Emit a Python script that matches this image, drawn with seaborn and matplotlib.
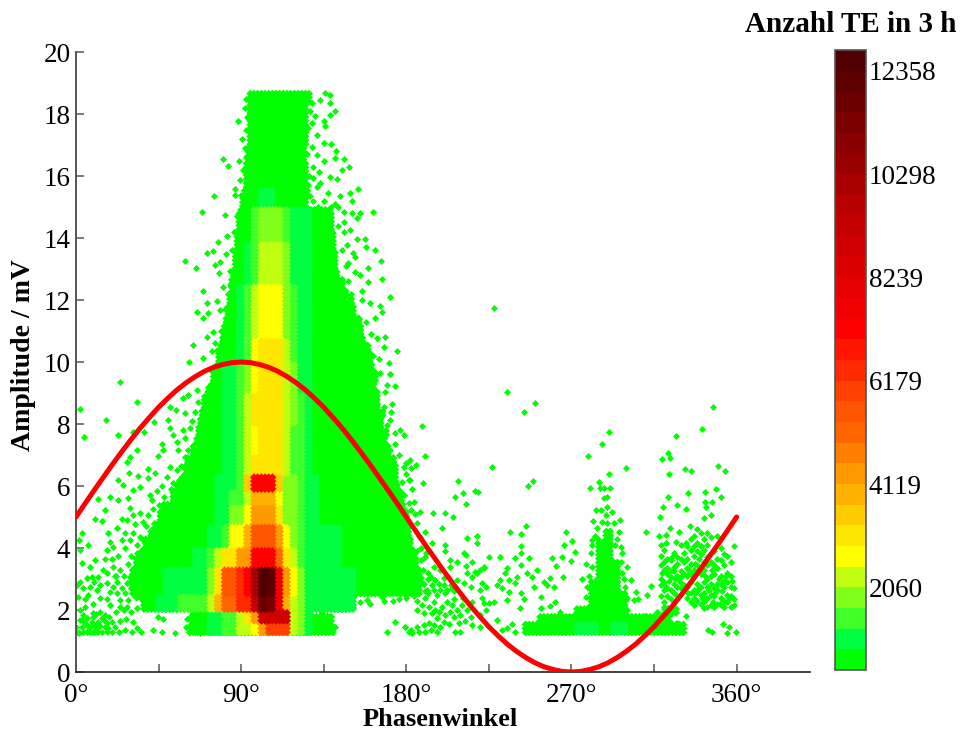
import numpy as np
import pandas as pd
import matplotlib
matplotlib.use("Agg")
import matplotlib.pyplot as plt
import seaborn as sns
from matplotlib.cm import ScalarMappable
from matplotlib.colors import BoundaryNorm, ListedColormap

# ----------------------------------------------------------
# DATA
# ----------------------------------------------------------

# one colour per count class, lowest first
level_colors = [
    "#00FF00", "#00FF40", "#40FF2A", "#80FF1A", "#C0FF10", "#FFFF00",
    "#FFE600", "#FFCC00", "#FFB300", "#FF9900", "#FF8000", "#FF6600",
    "#FF5500", "#FF4000", "#FF2A00", "#FF1500", "#FF0000", "#F00000",
    "#E60000", "#DB0000", "#D00000", "#C40000", "#B80000", "#A80000",
    "#980000", "#8A0000", "#7A0000", "#6C0000", "#5C0000", "#500000",
]
cbar_ticks = [2060, 4119, 6179, 8239, 10298, 12358]

# outline of the solid lowest class
outline_low = [1.15, 1.5, 1.8, 2.0, 2.3, 2.5, 2.8, 3.1, 3.4, 3.7, 4.0, 4.3, 4.6, 4.9, 5.2, 5.5, 5.8,
               6.1, 6.4, 6.7, 7.0, 7.3, 7.6, 7.9, 8.2, 8.5, 8.8, 9.1, 9.4, 9.7, 10.0, 10.3, 10.6,
               10.9, 11.2, 11.5, 11.8, 12.1, 12.4, 12.7, 13.0, 13.3, 13.6, 13.9, 14.2, 14.5, 14.8,
               15.0, 15.3, 15.6, 16.0, 16.5, 17.0, 17.5, 18.0, 18.3]
outline_left = [62, 63, 64, 37, 33, 31, 30, 31, 33, 36, 38, 41, 43, 46, 48, 53, 55,
                58, 60, 61, 64, 66, 67, 68, 69, 70, 72, 74, 75, 77, 78, 79, 80,
                81, 82, 83, 84, 85, 85, 86, 87, 87, 88, 88, 89, 89, 90,
                91, 92, 93, 93, 94, 95, 95, 95, 95]
outline_right = [142, 140, 128, 150, 153, 188, 190, 188, 186, 185, 184, 183, 182, 181, 180, 178, 177,
                 176, 175, 174, 172, 170, 170, 168, 168, 166, 166, 164, 165, 163, 162, 160, 158,
                 156, 155, 153, 152, 148, 146, 144, 143, 142, 141, 141, 141, 140, 140,
                 127, 127, 127, 126, 126, 126, 127, 127, 128]

# count class per 4 degree phase bin: 1-9, a=10 ... u=30, . = empty
level_codes = ".123456789abcdefghijklmnopqrstu"

body_start = 24
body_low = [1.15, 1.6, 2.0, 2.5, 3.4, 4.0, 4.7, 5.4, 5.8, 6.4, 7.0, 8.0,
            9.0, 10.0, 10.7, 12.5, 13.8, 15.0]
body_high = [1.6, 2.0, 2.5, 3.4, 4.0, 4.7, 5.4, 5.8, 6.4, 7.0, 8.0, 9.0,
             10.0, 10.7, 12.5, 13.8, 15.0, 15.6]
body_cells = [
    ".........1112233556aeee542",
    ".........111223357allll542",
    "..111222333359ccffmsri95422222221",
    "..111122222247ddfhoutia6422222221",
    "...1111111223577aahhhc75322222",
    ".....111111122366" + "9ddda643" + "22222",
    "......11111112244" + "6aaa7443" + "22",
    ".......11111122" + "33" + "5999" + "6443" + "22",
    "........1111122" + "23" + "8hhh" + "8443" + "22",
    ".........11111" + "22" + "35" + "7777" + "5332",
    "..........1111" + "22" + "35" + "6777" + "5332",
    "...........111" + "22" + "35" + "7777" + "5432",
    "............11" + "22" + "34" + "6777" + "5422",
    ".............111" + "23" + "6777" + "5322",
    "..............11" + "23" + "5666" + "4322",
    "................12" + "3555" + "4222",
    "................11" + "3444" + "3222",
    ".................11" + "22",
]

# low strip and spike in the negative half wave
strip_start = 240
strip_low = [1.15, 1.55, 1.8, 2.1, 2.6, 3.0, 3.6, 4.2]
strip_high = [1.55, 1.8, 2.1, 2.6, 3.0, 3.6, 4.2, 4.6]
strip_cells = [
    ".1111111222112211111111",
    "...111111111111111111",
    "........1111111.....11",
    "..........11111",
    "..........1111",
    "...........111",
    "...........11",
    "............1",
]

points_upper_left = [
    (92.7, 18.5), (88.5, 17.76), (90.3, 17.2), (80, 16.55), (82.7, 16.33), (89, 16.5),
    (75.4, 15.36), (68.9, 14.85), (81.2, 14.74), (86.7, 15.57), (86.7, 15.39), (89.4, 15.87),
    (59.6, 13.26), (65.4, 13.02), (71.2, 13.53), (74.9, 13.58), (77.6, 13.86), (82.2, 14.05),
    (81.8, 13.5), (75.8, 13.13), (78.5, 13.24), (78.2, 12.86), (84, 12.92), (69, 12.3),
    (76.7, 11.97), (65.8, 11.6), (69, 11.43), (71.6, 11.9), (80.3, 12.43), (83, 12.2),
    (72.2, 11.57), (78.5, 11.68), (71.2, 10.8), (74.9, 10.98), (63.6, 10.55), (69.4, 10.12),
    (61.6, 10.01), (75.8, 10.6), (74, 10.34), (92, 18.2), (93, 17.9), (92.5, 17.5), (92, 16.9),
    (91, 16.2), (90, 15.4), (88, 14.7), (86, 14.2), (85, 13.6), (84, 12.5), (81, 11.7),
    (79, 11), (77, 10.4), (74, 9.7), (72, 9.2), (70, 8.9), (68, 7.7), (92.5, 16.6), (87.5, 13.9),
]
points_upper_right = [
    (135.8, 18.67), (138.5, 18.6), (133, 18.45), (138.5, 18.37), (141.2, 18.1), (138.5, 17.97),
    (134.9, 17.76), (135.8, 17.6), (128.5, 17.7), (131.2, 17.33), (134.9, 17.06), (139, 17.03),
    (141.8, 16.81), (141.2, 16.57), (145.8, 16.55), (149, 16.28), (144.9, 16.18), (134.9, 16.47),
    (132.2, 16.14), (138.5, 15.98), (142.2, 15.9), (153.6, 15.58), (149.4, 15.44), (144, 15.34),
    (137.6, 15.44), (131.2, 15.66), (141.2, 15.1), (150.3, 15.18), (161.8, 14.85), (154.9, 14.82),
    (150.3, 14.8), (145.8, 14.85), (153, 14.64), (145.8, 14.53), (149.4, 14.26), (157.6, 13.96),
    (153, 13.96), (158, 13.72), (163, 13.62), (147.6, 13.78), (151.2, 13.51), (166.2, 13.26),
    (159.4, 13.02), (166.7, 12.68), (159.4, 12.59), (154.9, 12.81), (171.2, 12.09), (165.8, 11.82),
    (166.7, 11.6), (163, 11.41), (168.5, 10.82), (175.2, 10.34), (167.6, 10.5), (164, 10.77),
    (170.3, 9.96), (165.8, 9.64), (170.9, 9.62), (128.5, 18.35), (130.3, 17.92), (126.7, 17.54),
    (128.5, 16.95), (131.2, 16.68), (129.4, 16.3), (129.4, 15.93), (133, 15.77), (127.6, 15.34),
    (148, 13.2), (152, 12.9), (156, 12.3), (160, 11.9), (158, 11.3), (161, 10.9), (156, 12.0),
    (152, 13.4), (146, 14.2), (143, 15.0), (145, 13.6), (126, 18.6), (127.5, 18.1), (126, 16.7),
    (127, 16.0), (126.5, 15.7), (129, 15.2), (132, 15.0), (135, 15.2), (139, 15.0), (143, 14.4),
    (147, 13.1), (150, 12.2), (154, 11.4), (157, 10.6), (162, 10.2), (165, 10.1), (148.5, 12.6),
]
points_right_edge = [
    (161.3, 9.58), (170.9, 9.61), (174, 9.22), (169.4, 9.26), (168.5, 9.04), (172.2, 8.66),
    (164, 8.61), (167.6, 8.56), (171.6, 8.4), (171.2, 8.13), (169.4, 7.97), (176.7, 7.8),
    (174, 7.7), (178.5, 7.64), (174, 7.37), (171.2, 7.16), (175.8, 7), (178.5, 6.62),
    (181.8, 6.84), (181.3, 6.19), (177.6, 6.14), (175.8, 5.87), (178.5, 5.71), (181.3, 5.44),
    (127.6, 1.88), (134.9, 1.46), (141.2, 1.46), (169.4, 1.3), (174, 1.62), (179.4, 1.46),
    (181.3, 1.3), (155, 2.27), (158.5, 2.32), (166.7, 2.43), (172.7, 2.28), (144, 2.05),
    (151.2, 2.1), (160.3, 2.2), (184, 2.45), (190, 2.4), (186, 2.3), (185, 5.1), (186, 4.8),
    (187, 4.4), (188, 4.0), (190, 3.7), (189, 3.3), (192, 3.2), (184, 5.5), (183, 5.9),
    (180, 6.4), (168, 2.3), (176, 2.35), (180, 2.4), (131, 1.75), (134, 1.9), (138, 1.8),
]
points_left = [
    (24, 9.36), (33.4, 8.72), (2.2, 8.48), (16.3, 8.13), (4.3, 7.59), (23.1, 7.64), (31.2, 7.75),
    (37, 7.75), (42.5, 8.07), (50.3, 8.13), (59.4, 8.36), (54.5, 8.45), (58.5, 8.83), (61.2, 8.93),
    (65.8, 9.1), (68.5, 8.45), (64.9, 8.4), (66.7, 8.72), (51.2, 8.56), (51.2, 7.86), (58.5, 7.8),
    (62.2, 7.86), (66.7, 7.91), (69.4, 8.13), (53, 7.64), (54.9, 7.43), (59.4, 7.54), (65.8, 7.48),
    (46.7, 7.37), (47.6, 7.16), (55.8, 7.16), (61.2, 7.16), (66.7, 7), (44.9, 6.97), (51.2, 6.62),
    (54.9, 6.51), (59.4, 6.94), (64.9, 6.62), (60.3, 6.3), (49.4, 6.3), (39.4, 6.55), (43.1, 6.41),
    (39.4, 6.25), (34, 6.32), (29, 6.41), (23, 6.19), (29.4, 6.92), (27.6, 6.78), (33.4, 7.16),
    (25.8, 6.03), (31.2, 5.87), (34.9, 5.98), (28.5, 5.6), (40.3, 5.71), (41.2, 5.55), (18.5, 5.65),
    (12.2, 5.57), (15.8, 5.22), (23, 5.55), (29.4, 5.28), (10.3, 4.95), (14.3, 4.88), (31.2, 5.06),
    (34.9, 5.12), (39.4, 5.06), (36.7, 4.85), (32.2, 4.79), (3, 4.49), (17.6, 4.47), (22.2, 4.63),
    (26.7, 4.47), (31.2, 4.47), (1.8, 4.26), (18.5, 4.2), (24.9, 4.26), (29.4, 4.26), (6.7, 4.1),
    (16.7, 3.93), (20.3, 4.04), (26.7, 3.99), (33, 4.1), (34.9, 4.36), (2.2, 3.93), (10.3, 3.61),
    (15.8, 3.66), (19.4, 3.66), (3, 3.52), (7.6, 3.4), (14.9, 3.29), (20.3, 3.4), (24, 3.29),
    (28.5, 3.5), (33, 3.56), (8.5, 3.07), (12.2, 3.07), (2.2, 2.91), (5.8, 3.02), (16.7, 2.86),
    (22.2, 2.91), (27.6, 2.86), (0.3, 2.8), (4, 2.7), (7.6, 2.75), (11.2, 2.64), (18.5, 2.59),
    (22.2, 2.54), (26.7, 2.54), (1.2, 2.43), (6.7, 2.48), (16.7, 2.37), (24, 2.32), (28.5, 2.32),
    (18.5, 2.16), (22, 3.1), (26, 3.1), (30, 3.1), (25, 2.7), (30, 2.7), (13, 2.4), (20, 2.75),
    (52, 5.9), (48, 5.65), (45, 5.4), (42, 5.25), (38, 4.7), (36, 4.3), (28, 4.9), (25, 4.95),
    (33, 3.85), (30, 3.75), (23, 3.75), (21, 3.1), (17, 3.2), (13, 2.8), (10, 2.9), (5, 2.35),
    (47, 6.0), (44, 5.85), (56, 6.2), (53, 6.1), (57, 6.65), (62, 6.75), (64, 7.3), (63, 8.1),
]
points_bottom_left = [
    (9.4, 1.89), (0.3, 1.3), (3, 1.46), (5.8, 1.3), (9.4, 1.78), (10.3, 1.52), (12.2, 1.3),
    (14, 1.74), (15.8, 1.46), (19.4, 1.3), (21.2, 1.46), (23.6, 1.3), (26.7, 1.35), (30.3, 1.3),
    (33, 1.41), (35.2, 1.3), (42.2, 1.35), (44.9, 1.76), (47.6, 1.7), (46.7, 1.3), (54, 1.27),
    (60.3, 1.7), (60, 1.46), (64.9, 1.3), (67.6, 1.25), (0, 1.46), (2.2, 1.67), (4.9, 1.57),
    (7.6, 1.46), (12.2, 1.62), (16.7, 1.57), (19.4, 1.62), (14, 1.3), (7.6, 1.3), (4, 1.84),
    (8.5, 1.62), (11, 1.87), (13, 1.95), (16, 1.85), (6, 1.75), (18, 1.78), (24, 1.65),
    (27, 1.72), (31, 1.6), (2, 2.0), (5, 2.1), (9, 2.2), (22, 1.95), (26, 2.0), (30, 1.95),
    (1.5, 1.27), (4, 1.3), (9, 1.3), (10.5, 1.3), (17, 1.3), (11, 1.4), (13, 1.5), (17.5, 1.42),
    (6.5, 1.5), (3.5, 1.68), (15, 1.68), (33, 2.05), (28, 2.1), (24, 2.1),
]
points_mid = [
    (235, 9.02), (244.4, 8.4), (250.4, 8.69), (347.3, 8.56), (188.6, 7.95), (290.4, 7.75),
    (341, 7.83), (327.2, 7.62), (286.4, 7.36), (279.2, 6.97), (322.8, 7.05), (319.3, 6.86),
    (323.7, 6.89), (190.4, 6.97), (226.8, 6.62), (299.5, 6.59), (350, 6.66), (353.5, 6.5),
    (331.7, 6.55), (335, 6.47), (323.2, 6.39), (290.4, 6.39), (180, 6.73), (182.8, 6.59),
    (185.5, 6.68), (181.9, 6.19), (189.2, 6.09), (208, 6.17), (249.2, 6.16), (246.4, 6),
    (285, 6.12), (279.9, 5.93), (285.3, 5.93), (288, 5.93), (291, 5.93), (217.2, 5.85),
    (219, 5.8), (211, 5.76), (206.8, 5.66), (342.8, 5.82), (348.8, 5.89), (351.3, 5.66),
    (333.7, 5.76), (322.4, 5.66), (287.7, 5.62), (289.5, 5.66), (342.6, 5.5), (346.8, 5.5),
    (212.3, 5.42), (319.9, 5.33), (327.7, 5.38), (332.3, 5.27), (343.2, 5.33), (289.2, 5.33),
    (283.2, 5.23), (285.9, 5.23), (292.3, 5.15), (288.6, 5.06), (187.7, 5.15), (194.4, 5.12),
    (201, 5.12), (205.5, 5), (182.3, 5.23), (318, 5), (342.3, 4.96), (345.9, 5.06),
    (281.9, 4.88), (286.8, 4.85), (289.2, 4.82), (296.3, 4.9), (293.2, 4.8), (245.5, 4.72),
    (199.5, 4.64), (334.6, 4.72), (323.7, 4.64), (284, 4.64), (266.8, 4.53), (236.4, 4.53),
    (242.3, 4.45), (310.8, 4.53), (296, 4.53), (328.6, 4.53), (317.7, 4.39), (321.3, 4.42),
    (213.2, 4.33), (218.3, 4.39), (218.3, 4.17), (281, 4.26), (270.4, 4.23), (265.9, 4.1),
    (242.3, 4.08), (201, 4.1), (318.6, 4.1), (321.3, 4.15), (332.3, 4.15), (327.2, 4.18),
    (228, 11.75),
]
points_after_peak = [
    (190.4, 4.53), (187.7, 4.37), (194, 4.15), (201.3, 3.9), (203.7, 3.61), (207.7, 3.56),
    (211.3, 3.83), (212.8, 3.77), (215.9, 3.56), (212.6, 3.43), (217.7, 3.24), (220.4, 3.29),
    (222.3, 3.4), (225, 3.72), (231.3, 3.72), (239.5, 3.67), (242.3, 3.83), (246.8, 3.67),
    (259.5, 3.67), (264.6, 3.72), (269.5, 3.58), (271.9, 3.86), (261.7, 3.43), (242.3, 3.45),
    (235, 3.34), (251.3, 3.29), (245.9, 3.18), (240.4, 3.08), (248.6, 3.08), (234, 3.18),
    (231.3, 2.97), (235.9, 2.97), (229.5, 2.81), (232.3, 2.7), (239.5, 2.86), (255, 2.91),
    (258.3, 3.02), (265.3, 3.08), (256.8, 2.81), (260.4, 2.73), (249.5, 2.75), (242.3, 2.54),
    (235.9, 2.59), (235, 2.32), (244.4, 2.35), (253.2, 2.43), (261.3, 2.27), (241.9, 2.08),
    (253.5, 2.05), (258.1, 2.14), (264, 1.95), (222.3, 3.34), (218.6, 3.18), (215.9, 3.08),
    (213.2, 3.18), (207.7, 2.97), (204, 3.4), (198.6, 3.29), (195, 3.4), (193.2, 3.08),
    (195.9, 2.97), (200.4, 3.02), (211.3, 2.86), (221.3, 2.86), (215, 2.75), (220.4, 2.65),
    (223.2, 2.75), (227.7, 2.27), (225, 2.22), (222.3, 2.22), (229.5, 1.68), (232.3, 1.36),
    (237.7, 1.54), (239.5, 1.28), (235, 1.41), (191.3, 2.65), (195, 2.65), (198.6, 2.65),
    (202.3, 2.65), (205.9, 2.62), (189.5, 2.85), (194, 2.8), (197.7, 2.85), (192, 3.0),
    (200.4, 2.8), (185.9, 2), (189.5, 1.89), (188.6, 2.16), (192.3, 2.1), (195, 2.27),
    (195.9, 2), (194, 1.89), (199.5, 2.1), (202.3, 2.27), (205, 2.16), (204, 1.95),
    (207.7, 2), (210.4, 2.16), (213.2, 2), (215, 1.78), (205.9, 1.78), (208.6, 1.57),
    (206.8, 1.3), (209.5, 1.3), (215.9, 1.52), (220, 1.46), (220.4, 1.84), (223.2, 2),
    (221.3, 2.38), (215.9, 2.27), (179.5, 1.46), (182.3, 1.36), (183.2, 1.25), (185.9, 1.46),
    (189.5, 1.52), (192.3, 1.57), (195, 1.52), (196.8, 1.3), (198.6, 1.46), (200.4, 1.62),
    (193.2, 1.35), (190.4, 1.3), (186.8, 1.3), (197, 1.75), (201, 1.85), (198, 1.95),
    (209, 1.85), (212, 1.65), (203, 1.55), (206, 2.35), (211, 2.4), (192, 2.55), (197, 2.5),
    (201, 2.55), (204.5, 2.8), (188, 3.6), (191, 3.85), (186, 3.9), (190, 2.6), (205, 2.72),
]
points_spike = [
    (276, 3), (277.7, 2.43), (280.4, 3.83), (281.3, 4.1), (296.8, 4.04), (297.7, 3.83),
    (296.8, 3.56), (300.4, 3.4), (297.7, 3.18), (302.3, 2.97), (299, 2.75), (300.4, 2.38),
    (305.3, 2.59), (306.3, 2.35), (304, 2.32), (311, 2.48), (313.2, 2.77), (310, 1.82),
    (299, 1.78), (316.8, 1.95), (320.4, 2.11), (322.3, 1.89), (325, 2.11), (327.7, 1.57),
    (278, 3.5), (279, 2.1), (277, 2.0), (300, 2.0), (298, 2.2), (295, 4.3), (279.5, 3.1),
    (281, 3.4), (283, 4.4), (294, 4.1), (278.5, 2.75), (284.5, 4.3), (291, 4.55), (298.5, 3.0),
]

# right cluster: amplitudes seen per phase position
cluster_phase = [318.6, 320.5, 322.3, 324, 325.9, 327.7, 329.5, 331.5, 333.2, 335, 336.8, 338.5,
                 340.4, 342, 344, 345.8, 347.7, 349.5, 351.3, 353, 355, 356.8, 358.5]
cluster_amp = [
    [3.75, 3.45, 3.0, 2.8, 2.45], [3.95, 3.55, 3.3, 2.9, 2.65, 2.25], [3.65, 3.35, 3.15, 2.7, 2.45, 2.05],
    [3.6, 3.25, 3.05, 2.65, 2.35], [3.85, 3.4, 3.25, 2.85, 2.55], [3.7, 3.5, 3.1, 2.75, 2.45],
    [4.1, 3.65, 3.25, 3.05, 2.7], [3.85, 3.55, 3.15, 2.8], [4.05, 3.65, 3.35, 3.1, 2.75, 2.4],
    [4.3, 3.95, 3.5, 3.15, 2.9, 2.55, 2.25], [4.4, 4.05, 3.75, 3.3, 3.05, 2.65, 2.4, 2.15],
    [4.6, 4.15, 3.9, 3.45, 3.25, 2.85, 2.6, 2.3], [4.5, 4.05, 3.8, 3.35, 3.15, 2.75, 2.5, 2.2],
    [4.3, 3.95, 3.55, 3.3, 2.9, 2.55, 2.35, 2.05], [4.5, 4.1, 3.7, 3.45, 3, 2.75, 2.4, 2.1],
    [4.35, 3.85, 3.55, 3.1, 2.85, 2.5, 2.15], [3.9, 3.45, 3.15, 2.7, 2.45, 2.1],
    [4.4, 3.65, 3.35, 2.85, 2.65, 2.2], [4, 3.6, 3.1, 2.85, 2.4, 2.15],
    [3.8, 3.45, 2.95, 2.75, 2.3, 2.1], [3.75, 3.2, 2.9, 2.5, 2.25],
    [3.55, 3.1, 2.75, 2.45, 2.1], [4.05, 2.7, 2.35, 2.15],
]
points_cluster_extra = [
    (332.6, 1.82), (344.6, 1.36), (346.8, 1.28), (352.8, 1.55), (355.9, 1.46), (354.6, 1.27),
    (359.5, 1.3), (319.5, 3.2), (323, 2.95), (326.5, 3.0), (330, 2.85), (334, 3.25), (337.5, 3.5),
    (339.5, 2.7), (341, 2.4), (343, 3.1), (345, 2.65), (346.5, 3.3), (348.5, 2.55), (350.5, 3.0),
    (352, 2.6), (354, 3.1), (356, 2.4), (357.5, 2.95), (339.5, 3.65), (337.5, 2.55), (347, 2.25),
    (352, 2.25), (342.5, 2.25), (333.5, 2.55), (321.5, 2.75), (325, 3.7), (328.5, 2.95),
]

# reference voltage
sine_phase = list(range(0, 361, 5))
sine_amp = [
    5.0, 5.44, 5.87, 6.29, 6.71, 7.11, 7.5, 7.87, 8.21, 8.54, 8.83, 9.1, 9.33, 9.53, 9.7, 9.83, 9.92, 9.98,
    10.0, 9.98, 9.92, 9.83, 9.7, 9.53, 9.33, 9.1, 8.83, 8.54, 8.21, 7.87, 7.5, 7.11, 6.71, 6.29, 5.87, 5.44,
    5.0, 4.56, 4.13, 3.71, 3.29, 2.89, 2.5, 2.13, 1.79, 1.46, 1.17, 0.9, 0.67, 0.47, 0.3, 0.17, 0.08, 0.02,
    0.0, 0.02, 0.08, 0.17, 0.3, 0.47, 0.67, 0.9, 1.17, 1.46, 1.79, 2.13, 2.5, 2.89, 3.29, 3.71, 4.13, 4.56,
    5.0,
]

# ----------------------------------------------------------
# BUILD MARKER TABLES
# ----------------------------------------------------------

amp_rows = np.arange(1.28, 18.7, 0.125)


def expand(start, lows, highs, cells, min_level=1):
    rows = []
    for low, high, cell in zip(lows, highs, cells):
        for amp in amp_rows[(amp_rows >= low) & (amp_rows < high)]:
            for k, code in enumerate(cell):
                level = level_codes.index(code)
                if level < min_level:
                    continue
                for sub in (1, 3):
                    rows.append((start + 4 * k + sub, amp, level))
    return rows


grid = expand(body_start, body_low, body_high, body_cells, min_level=2)
grid += expand(strip_start, strip_low, strip_high, strip_cells)

outline_top = outline_low[1:] + [18.7]
for low, high, left, right in zip(outline_low, outline_top, outline_left, outline_right):
    for amp in amp_rows[(amp_rows >= low) & (amp_rows < high)]:
        grid += [(p, amp, 1) for p in np.arange(left, right, 2.0)]

grid_df = pd.DataFrame(grid, columns=["phase", "amp", "level"]).sort_values("level", kind="stable")

single = []
for group in (points_upper_left, points_upper_right, points_right_edge, points_left,
              points_bottom_left, points_mid, points_after_peak, points_spike,
              points_cluster_extra):
    single += group
for p, amps in zip(cluster_phase, cluster_amp):
    single += [(p, a) for a in amps]
single_df = pd.DataFrame(single, columns=["phase", "amp"])

# ----------------------------------------------------------
# PLOT
# ----------------------------------------------------------

sns.set_theme(style="ticks")
plt.rcParams["font.family"] = ["Liberation Serif", "DejaVu Serif"]
plt.rcParams["axes.unicode_minus"] = False

W, H = 960, 734
fig = plt.figure(figsize=(W / 100, H / 100), dpi=100, facecolor="white")
ax = fig.add_axes([76 / W, 1 - 672 / H, (810 - 76) / W, (672 - 52) / H])

palette = {i + 1: c for i, c in enumerate(level_colors)}
sns.scatterplot(
    data=single_df, x="phase", y="amp", color=level_colors[0],
    marker="D", s=13, linewidth=0, legend=False, ax=ax, zorder=2,
)
sns.scatterplot(
    data=grid_df, x="phase", y="amp", hue="level", palette=palette,
    marker="D", s=17, linewidth=0, legend=False, ax=ax, zorder=2,
)
sns.lineplot(
    x=sine_phase, y=sine_amp, color="#FF0000", linewidth=3.6,
    errorbar=None, sort=False, ax=ax, zorder=3,
)

ax.set_xlim(0, 400)
ax.set_ylim(0, 20)
ax.set_xticks(list(range(0, 361, 45)))
ax.set_xticklabels(["0°", "", "90°", "", "180°", "", "270°", "", "360°"])
ax.set_yticks(list(range(0, 21, 2)))
ax.tick_params(axis="both", direction="in", length=6, width=1.1, color="#555555",
               labelsize=19.5, labelcolor="black")
ax.tick_params(axis="x", pad=8)
ax.tick_params(axis="y", pad=4)
ax.set_xlabel("Phasenwinkel", fontsize=19, fontweight="bold", va="center", color="black")
ax.xaxis.set_label_coords(0.496, -(720 - 672) / 620)
ax.set_ylabel("Amplitude / mV", fontsize=20, fontweight="bold", va="center", color="black")
ax.yaxis.set_label_coords(-(76 - 24) / 734, (672 - 355) / 620)
sns.despine(ax=ax)
ax.spines["left"].set_color("#555555")
ax.spines["left"].set_linewidth(1.4)
ax.spines["bottom"].set_color("#222222")
ax.spines["bottom"].set_linewidth(1.2)

# colour bar
cax = fig.add_axes([835 / W, 1 - 670 / H, 31 / W, 620 / H])
bounds = np.linspace(412, 12772, len(level_colors) + 1)
mappable = ScalarMappable(norm=BoundaryNorm(bounds, len(level_colors)),
                          cmap=ListedColormap(level_colors))
cbar = fig.colorbar(mappable, cax=cax, ticks=cbar_ticks, spacing="proportional", drawedges=False)
cbar.ax.set_yticklabels([str(t) for t in cbar_ticks])
cbar.ax.minorticks_off()
cbar.ax.yaxis.set_ticks_position("both")
cbar.ax.tick_params(direction="in", length=5, width=1, color="black",
                    labelsize=19.5, pad=2, labelleft=False, labelright=True, labelcolor="black")
cbar.outline.set_edgecolor("#555555")
cbar.outline.set_linewidth(1.2)

fig.text(851 / W, 1 - 24 / H, "Anzahl TE in 3 h", ha="center", va="center",
         fontsize=21, fontweight="bold", color="black")

fig.savefig("out.png", dpi=100, facecolor="white")
plt.close(fig)
